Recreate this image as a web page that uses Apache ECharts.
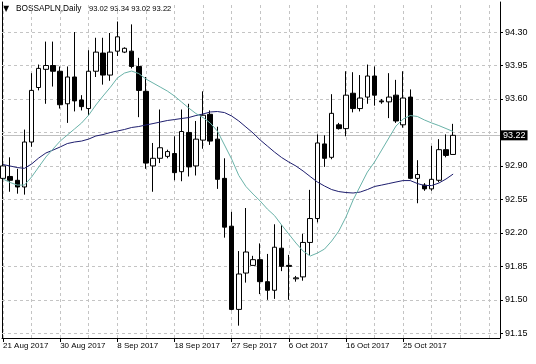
<!DOCTYPE html>
<html><head><meta charset="utf-8">
<script src="https://cdn.jsdelivr.net/npm/echarts@6/dist/echarts.min.js"></script>
<style>html,body{margin:0;padding:0;background:#fff}#c{width:536px;height:364px}</style>
</head><body><div id="c"></div>
<script>
const symbolName = 'BOSSAPLN,Daily';
const lastOHLC = '93.02 93.34 93.02 93.22';
const dateLabels = ['21 Aug 2017','30 Aug 2017','8 Sep 2017','18 Sep 2017','27 Sep 2017','6 Oct 2017','16 Oct 2017','25 Oct 2017'];
const labelBars = [0, 8, 16, 24, 32, 40, 48, 56];
const yTicks = [91.15, 91.50, 91.85, 92.20, 92.55, 92.90, 93.60, 93.95, 94.30];
const hGrid = [91.15, 91.50, 91.85, 92.20, 92.55, 92.90, 93.25, 93.60, 93.95, 94.30];
const vGrid = [0, 4, 8, 12, 16, 20, 24, 28, 32, 36, 40, 44, 48, 52, 56, 60, 64, 68];
const lastPrice = 93.22;

const open  = [92.77,92.79,92.75,92.68,93.15,93.72,93.91,93.95,93.89,93.55,93.83,93.59,93.50,93.89,94.08,93.85,94.10,94.09,94.10,93.94,93.68,92.90,92.98,93.00,93.03,92.84,93.25,92.90,93.17,93.44,93.18,92.77,92.27,91.40,91.78,91.86,91.92,91.69,91.60,92.04,91.86,91.72,91.74,92.10,92.35,93.13,92.99,93.33,93.29,93.66,93.50,93.62,93.84,93.58,93.57,93.64,93.33,93.62,92.77,92.70,92.66,92.75,93.07,93.02];
const close = [92.90,92.75,92.68,93.15,93.69,93.92,93.95,93.89,93.54,93.83,93.58,93.52,93.89,94.09,93.85,94.09,94.25,94.13,93.94,93.69,92.93,92.98,93.09,93.05,92.83,93.26,92.89,93.18,93.43,93.16,92.76,92.26,91.40,91.77,92.00,91.92,91.69,91.60,92.05,91.85,91.85,91.73,92.10,92.35,93.14,92.98,93.45,93.29,93.64,93.50,93.61,93.84,93.64,93.57,93.62,93.37,93.61,92.77,92.81,92.66,92.76,93.07,93.01,93.22];
const high  = [93.05,92.99,92.87,93.28,93.87,93.96,94.20,94.20,93.94,93.94,94.30,93.64,94.11,94.24,94.24,94.29,94.41,94.14,94.38,94.03,93.83,93.14,93.49,93.07,93.21,93.49,93.55,93.37,93.68,93.48,93.31,92.98,92.42,92.01,92.46,91.96,92.09,91.98,92.29,92.28,91.97,91.75,92.19,92.65,93.23,93.22,93.65,93.35,93.89,93.88,93.85,93.96,93.94,93.60,93.87,93.80,93.89,93.70,92.96,92.72,93.11,93.18,93.23,93.34];
const low   = [92.56,92.63,92.61,92.60,93.10,93.69,93.55,93.73,93.50,93.35,93.47,93.48,93.43,93.83,93.75,93.79,94.05,94.08,93.92,93.41,92.87,92.63,92.93,92.98,92.75,92.74,92.79,92.80,93.08,93.12,92.66,92.15,91.39,91.23,91.68,91.86,91.56,91.50,91.51,91.80,91.50,91.69,91.70,91.97,92.31,92.89,92.97,93.28,93.21,93.46,93.47,93.55,93.53,93.55,93.40,93.35,93.30,92.76,92.51,92.64,92.64,92.73,92.99,93.02];
const maSlow = [92.915,92.899,92.883,92.875,92.92,92.983,93.035,93.066,93.098,93.134,93.15,93.16,93.181,93.213,93.228,93.249,93.265,93.281,93.302,93.312,93.328,93.343,93.359,93.375,93.385,93.396,93.406,93.427,93.443,93.464,93.469,93.458,93.422,93.37,93.307,93.244,93.171,93.108,93.045,92.988,92.941,92.899,92.847,92.789,92.732,92.69,92.653,92.632,92.622,92.617,92.627,92.653,92.685,92.70,92.716,92.732,92.747,92.747,92.716,92.695,92.695,92.721,92.763,92.815];
const maFast = [92.763,92.727,92.70,92.70,92.784,92.889,92.993,93.077,93.16,93.223,93.286,93.349,93.432,93.537,93.631,93.72,93.819,93.871,93.892,93.866,93.809,93.767,93.725,93.683,93.631,93.568,93.505,93.448,93.406,93.349,93.265,93.119,92.972,92.80,92.685,92.606,92.533,92.449,92.381,92.282,92.188,92.094,92.01,91.958,91.989,92.031,92.115,92.219,92.366,92.544,92.69,92.836,92.941,93.066,93.192,93.317,93.39,93.427,93.417,93.38,93.349,93.322,93.291,93.26];

const FONT = 'Liberation Sans';
const YMIN = 91.101, YMAX = 94.614;
const chart = echarts.init(document.getElementById('c'), null, {renderer: 'canvas'});
const candleData = open.map((o, i) => [i, o, close[i], low[i], high[i]]);

chart.setOption({
  animation: false,
  backgroundColor: '#fff',
  grid: {left: 2, right: 36, top: 2, bottom: 26, show: false},
  xAxis: {
    type: 'value', min: -0.14, max: 69.56,
    axisLine: {show: true, onZero: false, lineStyle: {color: '#000', width: 1}},
    axisTick: {show: true, customValues: labelBars, length: 4, lineStyle: {color: '#000'}},
    axisLabel: {customValues: labelBars, formatter: v => dateLabels[labelBars.indexOf(Math.round(v))] || '',
      align: 'left', margin: 4, fontSize: 8, fontFamily: FONT, color: '#000'},
    splitLine: {show: false}
  },
  yAxis: [{
    type: 'value', position: 'right', min: YMIN, max: YMAX,
    axisLine: {show: true, onZero: false, lineStyle: {color: '#000'}},
    axisTick: {show: true, customValues: yTicks, length: 3, lineStyle: {color: '#000'}},
    axisLabel: {customValues: yTicks, formatter: v => v.toFixed(2), margin: 5, fontSize: 9, fontFamily: FONT, color: '#000'},
    splitLine: {show: false}
  }, {
    type: 'value', position: 'left', min: YMIN, max: YMAX,
    axisLine: {show: true, onZero: false, lineStyle: {color: '#000'}},
    axisTick: {show: false}, axisLabel: {show: false}, splitLine: {show: false}
  }],
  graphic: [
    {type: 'text', x: 3, y: 9, style: {text: '▼', fontSize: 8, fontFamily: 'DejaVu Sans', fill: '#000', verticalAlign: 'middle'}},
    {type: 'text', x: 16, y: 9, style: {text: symbolName, fontSize: 8.3, fontFamily: FONT, fill: '#000', verticalAlign: 'middle'}},
    {type: 'text', x: 89, y: 9, style: {text: lastOHLC, fontSize: 7.6, fontFamily: FONT, fill: '#000', verticalAlign: 'middle'}}
  ],
  series: [
    {type: 'line', data: [], silent: true, z: 1,
      markLine: {silent: true, z: 1, symbol: 'none', animation: false, label: {show: false},
        lineStyle: {color: '#c4c4c4', type: [3, 3], width: 1},
        data: [...hGrid.map(v => ({yAxis: v})), ...vGrid.map(v => ({xAxis: v}))]}},
    {type: 'line', data: [], silent: true, z: 2,
      markLine: {silent: true, z: 2, symbol: 'none', animation: false,
        lineStyle: {color: '#c0c0c0', type: 'solid', width: 1},
        label: {show: true, position: 'end', formatter: lastPrice.toFixed(2), backgroundColor: '#000', color: '#fff',
          padding: [1, 2, 0, 2], fontSize: 9, fontFamily: FONT, distance: 1},
        data: [{yAxis: lastPrice}]}},
    {type: 'candlestick', data: candleData, encode: {x: 0, y: [1, 2, 3, 4]}, barWidth: 5, z: 3,
      itemStyle: {color: '#fff', color0: '#000', borderColor: '#000', borderColor0: '#000', borderWidth: 1}},
    {type: 'line', data: maSlow.map((v, i) => [i, v]), showSymbol: false, symbol: 'none', z: 4,
      lineStyle: {color: '#1e1e6e', width: 1}},
    {type: 'line', data: maFast.map((v, i) => [i, v]), showSymbol: false, symbol: 'none', z: 4,
      lineStyle: {color: '#6ab3a9', width: 1}}
  ]
});
</script>
</body></html>
